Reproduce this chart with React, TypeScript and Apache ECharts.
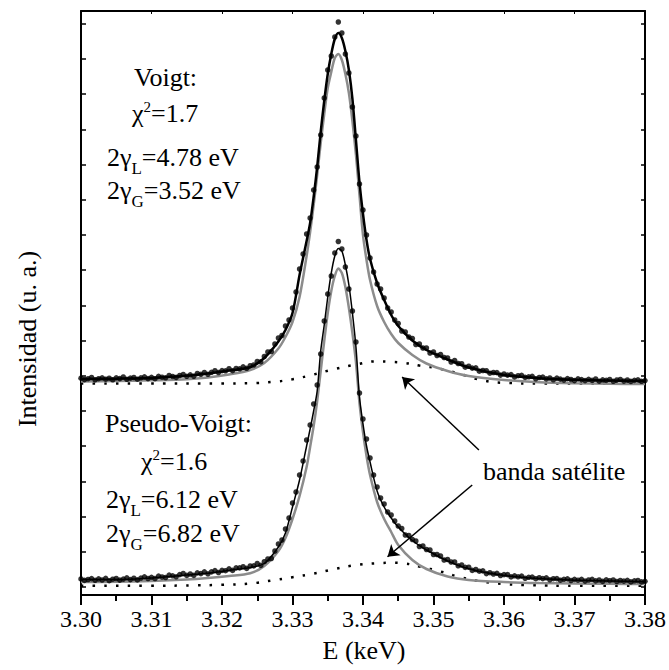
import React, { useEffect, useRef } from "react";
import * as echarts from "echarts";

const SERIF = "Liberation Serif";

// x ticks (keV)
const xMin = 3.3;
const xMax = 3.38;
const xInterval = 0.01;

// y axis (arbitrary intensity units) and its tick positions
const yMin = -8;
const yMax = 576;
const yTicks = [0, 35.2, 70.4, 105.6, 140.8, 176, 211.2, 246.4, 281.6, 316.8, 352, 387.2, 422.4, 457.6, 492.8, 528, 563.2];

// measured spectra: E = 3.300 + 0.0005 * i
const E_START = 3.3;
const E_STEP = 0.0005;
const dataUpper = [
  208.8, 207.4, 208.3, 209.5, 207.2, 208.3, 209.2, 207.8, 208.8, 207.2,
  209.2, 208.4, 210.0, 207.7, 208.9, 209.5, 207.8, 209.2, 210.1, 208.4,
  209.7, 208.3, 210.6, 209.8, 209.2, 211.5, 210.5, 209.6, 211.5, 212.5,
  210.7, 212.1, 210.7, 213.5, 212.7, 214.5, 212.7, 214.7, 216.3, 214.5,
  216.4, 216.2, 218.3, 216.3, 218.5, 218.2, 220.2, 218.7, 221.3, 222.0,
  225.5, 225.2, 230.5, 235, 235.5, 243, 249, 251.5, 261, 267,
  279, 295, 318, 333, 353, 369, 397, 420, 452, 489,
  517, 531, 550, 565, 554, 533, 514, 480, 451, 403,
  377, 352, 329, 315, 303, 298, 289, 279, 275, 267,
  263.5, 256, 255, 250, 248.5, 242.5, 243, 239, 239, 234,
  235, 231.5, 232.5, 229.5, 229, 225, 226.5, 223.5, 223.3, 219.8,
  220.8, 218.9, 219.1, 215.8, 216.5, 216.3, 213.8, 214.5, 214.4, 211.9,
  213.0, 211.9, 212.4, 210.1, 211.3, 211.7, 209.6, 210.2, 210.6, 208.2,
  209.5, 209.9, 208.1, 209.0, 207.2, 208.9, 207.9, 206.9, 208.4, 207.5,
  206.4, 208.2, 207.4, 206.4, 207.7, 206.6, 208.0, 205.8, 207.1, 206.6,
  207.5, 205.7, 207.0, 207.5, 205.9, 207.0, 205.6, 206.6, 207.1, 205.7,
  206.4,
];
const dataLower = [
  8.1, 6.6, 7.5, 8.4, 6.7, 8.1, 7.0, 8.6, 6.3, 7.8,
  8.5, 6.9, 7.9, 9.2, 7.4, 8.8, 7.1, 8.9, 10.1, 8.5,
  9.7, 8.5, 10.9, 10.0, 9.5, 11.9, 11.2, 10.2, 12.4, 13.5,
  11.6, 13.0, 11.6, 14.1, 13.4, 15.1, 13.2, 15.1, 16.4, 14.5,
  16.6, 16.3, 18.2, 16.6, 19.1, 19.1, 20.3, 18.6, 21.0, 21.1,
  23.5, 21.6, 25.3, 28.0, 28.5, 36, 43, 47, 58, 69,
  84, 95, 112, 126, 147, 162, 183, 202, 233, 266,
  293, 311, 334, 345.5, 338, 320, 298, 276, 245, 194,
  168, 148, 129, 112, 100, 89, 83, 75, 72, 66,
  61, 58.5, 52, 51.5, 47.5, 46, 40.5, 41, 37.5, 37,
  32.5, 32.5, 31, 27, 27.5, 25, 25, 21.2, 22, 19.6,
  19.8, 16.6, 17.5, 15.8, 16.1, 13.4, 14.3, 13.0, 13.7, 11.5,
  12.4, 12.4, 10.1, 11.2, 10.2, 10.9, 8.7, 9.7, 9.9, 8.3,
  9.3, 8.4, 9.2, 7.2, 8.3, 8.4, 6.8, 7.7, 8.1, 6.5,
  7.6, 6.8, 7.7, 5.9, 7.0, 7.6, 6.1, 7.0, 5.6, 7.1,
  6.3, 7.0, 5.5, 6.5, 5.9, 6.7, 5.1, 6.2, 6.5, 5.1,
  5.7,
];

// fitted curves
const fitE = [
  3.300, 3.305, 3.310, 3.315, 3.318, 3.321, 3.324, 3.326, 3.328, 3.329,
  3.330, 3.331, 3.332, 3.3325, 3.333, 3.3335, 3.334, 3.3345, 3.335, 3.3355,
  3.336, 3.3365, 3.337, 3.3375, 3.338, 3.3385, 3.339, 3.3395, 3.340, 3.3405,
  3.341, 3.342, 3.343, 3.344, 3.345, 3.347, 3.349, 3.352, 3.355, 3.360,
  3.365, 3.370, 3.375, 3.380,
];
const voigtTotal = [
  208, 208.3, 209, 211.2, 213.4, 216.6, 219.8, 229, 245.5, 257,
  274, 312, 346, 364, 390, 420, 455, 486, 513, 533,
  548, 554, 549, 536, 517, 488, 447, 405, 373, 347,
  328, 304, 287, 272, 261, 246.5, 237, 227.5, 219.5, 212,
  208.8, 207.2, 206.5, 206,
];
const voigtMain = [
  205.5, 206, 206.7, 207.7, 209.5, 212.5, 217, 224, 238.5, 250,
  265, 290, 331, 355, 382, 412, 444, 473, 499, 515,
  529, 533, 527, 513, 494, 466, 432, 392, 352, 327,
  307, 281, 265, 253, 244, 232, 223.5, 216, 211, 207,
  204.7, 203.7, 203.2, 203,
];
const pseudoTotal = [
  7.5, 7.4, 9.0, 12.0, 13.8, 16.6, 19.5, 23.5, 40, 54,
  80, 107, 141, 158, 176, 196, 236, 262, 290, 314,
  331, 338.5, 336, 322, 302, 274, 240, 190, 163, 141,
  125, 96, 80, 69, 60, 46.5, 37, 26, 18.2, 11.5,
  8.4, 6.8, 6.1, 5.3,
];
const pseudoMain = [
  5, 5.2, 6, 7.5, 9, 11, 13.7, 21, 36, 49,
  68, 91, 120, 140, 161, 186, 216, 246, 274, 296,
  311, 318.5, 314, 300, 279, 254, 225, 184, 155, 131,
  112, 85, 68, 55, 42, 27, 18, 10.5, 7, 5,
  4, 3.5, 3.2, 3,
];

// satellite band components (dotted)
const satUpperE = [3.300, 3.310, 3.320, 3.324, 3.327, 3.330, 3.333, 3.336, 3.339, 3.342, 3.344, 3.346, 3.348, 3.351, 3.354, 3.357, 3.360, 3.365, 3.370, 3.380];
const satUpper = [203.5, 203.5, 203.5, 203.8, 205, 207.8, 212.5, 218, 222.4, 225.6, 225.2, 224, 221.5, 218, 212.5, 206.6, 204.2, 203.5, 203.5, 203.5];
const satLowerE = [3.300, 3.310, 3.316, 3.320, 3.324, 3.327, 3.330, 3.333, 3.336, 3.339, 3.342, 3.344, 3.346, 3.348, 3.351, 3.354, 3.357, 3.360, 3.364, 3.370, 3.380];
const satLower = [1.3, 1.3, 1.6, 2.2, 3.5, 6.5, 9.8, 13.4, 18, 22, 23.7, 24.2, 23.4, 20.5, 15.5, 9.5, 5.3, 3, 1.8, 1.3, 1.2];

// arrows pointing at the satellite bands [E, intensity]
const arrowTails = [[3.35644, 137], [3.35549, 102]];
const arrowTips = [[3.34555, 210], [3.34348, 30.3]];

const xTitle = "E (keV)";
const yTitle = "Intensidad (u. a.)";
const satLabel = "banda satélite";

const pairs = (xs: number[], ys: number[]) => xs.map((x, i) => [x, ys[i]]);
const gridPairs = (ys: number[]) => ys.map((y, i) => [+(E_START + i * E_STEP).toFixed(4), y]);

const gammaRich = {
  m: { fontFamily: SERIF, fontSize: 26, lineHeight: 40, color: "#000" },
  sub: { fontFamily: SERIF, fontSize: 17, lineHeight: 17, color: "#000", verticalAlign: "bottom" },
};
const chiRich = {
  m: { fontFamily: SERIF, fontSize: 26, lineHeight: 27, color: "#000" },
  sup: { fontFamily: SERIF, fontSize: 15, lineHeight: 15, color: "#000", verticalAlign: "top" },
};

function txt(x: number, y: number, text: string, rich?: any, extra: any = {}) {
  const style: any = {
    text,
    fontFamily: SERIF,
    fontSize: 26,
    fill: "#000",
    align: "left",
    verticalAlign: "middle",
    ...extra,
  };
  if (rich) style.rich = rich;
  return { type: "text", x, y, silent: true, style };
}

export default function App() {
  const ref = useRef<HTMLDivElement>(null);
  useEffect(() => {
    if (!ref.current) return;
    const chart = echarts.init(ref.current, undefined, { renderer: "svg" });
    const black = "#000";
    const gray = "#8c8c8c";
    const dotted = { color: black, width: 2.5, type: [2.5, 9.2], cap: "butt" };
    const option: any = {
      animation: false,
      backgroundColor: "#fff",
      grid: { left: 81, right: 21, top: 11, bottom: 75 },
      xAxis: [
        {
          type: "value",
          position: "bottom",
          min: xMin,
          max: xMax,
          interval: xInterval,
          axisLine: { show: true, onZero: false, lineStyle: { color: black, width: 2 } },
          axisTick: { show: true, inside: false, length: 10, lineStyle: { color: black, width: 2 } },
          minorTick: { show: true, splitNumber: 2, length: 6, lineStyle: { color: black, width: 2 } },
          axisLabel: {
            show: true,
            margin: 12,
            fontFamily: SERIF,
            fontSize: 24,
            color: black,
            formatter: (v: number) => v.toFixed(2),
          },
          splitLine: { show: false },
          minorSplitLine: { show: false },
        },
        {
          type: "value",
          position: "top",
          min: xMin,
          max: xMax,
          interval: xInterval,
          axisLine: { show: true, onZero: false, lineStyle: { color: black, width: 2 } },
          axisTick: { show: true, inside: true, length: 3, lineStyle: { color: black, width: 1 } },
          axisLabel: { show: false },
          splitLine: { show: false },
        },
      ],
      yAxis: [
        {
          type: "value",
          position: "left",
          min: yMin,
          max: yMax,
          axisLine: { show: true, onZero: false, lineStyle: { color: black, width: 2 } },
          axisTick: { show: true, inside: true, length: 5, customValues: yTicks, lineStyle: { color: black, width: 1.5 } },
          axisLabel: { show: false },
          splitLine: { show: false },
        },
        {
          type: "value",
          position: "right",
          min: yMin,
          max: yMax,
          axisLine: { show: true, onZero: false, lineStyle: { color: black, width: 2 } },
          axisTick: { show: true, inside: true, length: 4, customValues: yTicks, lineStyle: { color: black, width: 1.5 } },
          axisLabel: { show: false },
          splitLine: { show: false },
        },
      ],
      series: [
        { type: "line", data: pairs(satUpperE, satUpper), symbol: "none", smooth: 0.5, lineStyle: dotted, z: 1, silent: true },
        { type: "line", data: pairs(satLowerE, satLower), symbol: "none", smooth: 0.5, lineStyle: dotted, z: 1, silent: true },
        { type: "line", data: pairs(fitE, voigtMain), symbol: "none", smooth: 0.3, lineStyle: { color: gray, width: 2.5 }, z: 2, silent: true },
        { type: "line", data: pairs(fitE, pseudoMain), symbol: "none", smooth: 0.3, lineStyle: { color: gray, width: 2.5 }, z: 2, silent: true },
        { type: "line", data: pairs(fitE, voigtTotal), symbol: "none", smooth: 0.3, lineStyle: { color: black, width: 2.5 }, z: 3, silent: true },
        { type: "line", data: pairs(fitE, pseudoTotal), symbol: "none", smooth: 0.3, lineStyle: { color: black, width: 1.5 }, z: 3, silent: true },
        { type: "scatter", data: gridPairs(dataUpper), symbol: "circle", symbolSize: 5.5, itemStyle: { color: black }, z: 4, silent: true },
        {
          type: "scatter",
          data: gridPairs(dataLower),
          symbol: "circle",
          symbolSize: 5.5,
          itemStyle: { color: black },
          z: 4,
          silent: true,
          markLine: {
            silent: true,
            symbol: ["none", "arrow"],
            symbolSize: 11,
            label: { show: false },
            lineStyle: { color: black, width: 1.5, type: "solid" },
            emphasis: { disabled: true },
            data: arrowTails.map((t, i) => [{ coord: t }, { coord: arrowTips[i] }]),
          },
        },
      ],
      graphic: [
        txt(134, 77, "Voigt:"),
        txt(132, 113, "{m|χ}{sup|2}{m|=1.7}", chiRich),
        txt(107, 157, "{m|2γ}{sub|L}{m|=4.78 eV}", gammaRich),
        txt(107, 190, "{m|2γ}{sub|G}{m|=3.52 eV}", gammaRich),
        txt(105, 423, "Pseudo-Voigt:"),
        txt(141, 461, "{m|χ}{sup|2}{m|=1.6}", chiRich),
        txt(106, 499, "{m|2γ}{sub|L}{m|=6.12 eV}", gammaRich),
        txt(106, 533, "{m|2γ}{sub|G}{m|=6.82 eV}", gammaRich),
        txt(483, 471, satLabel),
        txt(364, 650, xTitle, undefined, { align: "center" }),
        {
          type: "text",
          x: 27,
          y: 339,
          rotation: Math.PI / 2,
          silent: true,
          style: { text: yTitle, fontFamily: SERIF, fontSize: 26, fill: "#000", align: "center", verticalAlign: "middle" },
        },
      ],
    };
    chart.setOption(option);
    return () => chart.dispose();
  }, []);
  return (
    <div
      ref={ref}
      style={{ position: "absolute", left: 0, top: 0, width: 669, height: 670, background: "#fff" }}
    />
  );
}
